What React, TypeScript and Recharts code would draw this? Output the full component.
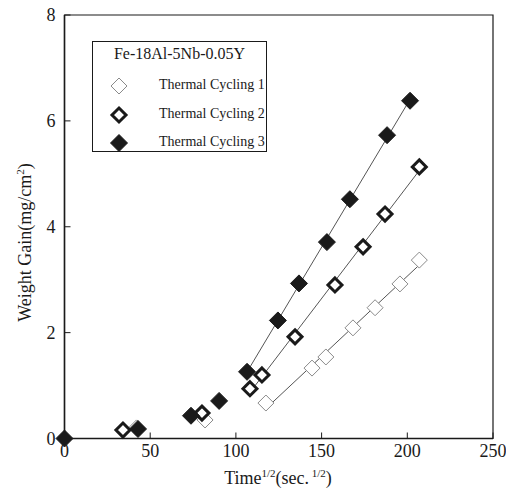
import {
  ScatterChart, Scatter, XAxis, YAxis, ReferenceArea, Legend,
} from 'recharts'

// [time^1/2, weight gain]
const cycling1 = [
  [42, 0.2], [82, 0.35], [117.5, 0.67], [144.4, 1.33], [152.5, 1.54],
  [168.3, 2.09], [181.2, 2.47], [195.7, 2.92], [207, 3.37],
]
const cycling2 = [
  [34.1, 0.16], [80.2, 0.48], [108.2, 0.94], [115.2, 1.2], [134.5, 1.92],
  [157.8, 2.9], [174.2, 3.62], [187, 4.24], [207, 5.13],
]
const cycling3 = [
  [0, 0], [42.9, 0.18], [73.8, 0.43], [90.2, 0.71], [106.5, 1.26],
  [124.5, 2.23], [136.8, 2.93], [153.1, 3.71], [166.5, 4.52],
  [188.2, 5.73], [201.6, 6.38],
]
// where the fitted lines start
const fitFrom = [117, 108, 106]

const xTicks = [0, 50, 100, 150, 200, 250]
const yTicks = [0, 2, 4, 6, 8]
const seriesNames = ['Thermal Cycling 1', 'Thermal Cycling 2', 'Thermal Cycling 3']
const legendTitle = 'Fe-18Al-5Nb-0.05Y'

const toPts = (a: number[][]) => a.map(([x, y]) => ({ x, y }))

const FONT = '"Liberation Serif", "Times New Roman", serif'
const INK = '#1a1a1a'

type Style = { r: number; fill: string; stroke: string; sw: number }
const styles: Style[] = [
  { r: 8, fill: '#fff', stroke: '#8a8a8a', sw: 1 },
  { r: 7, fill: '#fff', stroke: INK, sw: 3 },
  { r: 8.5, fill: INK, stroke: INK, sw: 1 },
]

const diamondPts = (cx: number, cy: number, r: number) =>
  `${cx},${cy - r} ${cx + r},${cy} ${cx},${cy + r} ${cx - r},${cy}`

const makeShape = (s: Style) => (props: any) => {
  const { cx, cy } = props
  if (cx == null || cy == null) return <g />
  return (
    <polygon points={diamondPts(cx, cy, s.r)} fill={s.fill}
      stroke={s.stroke} strokeWidth={s.sw} strokeLinejoin="miter" />
  )
}

const NoShape = () => <g />

const XTick = ({ x, y, payload }: any) => (
  <text x={x} y={y} dy="0.71em" textAnchor="middle" fontSize={18} fill={INK}
    style={{ fontFamily: FONT }}>{payload.value}</text>
)
const YTick = ({ x, y, payload }: any) => (
  <text x={x} y={y} dy="0.35em" textAnchor="end" fontSize={18} fill={INK}
    style={{ fontFamily: FONT }}>{payload.value}</text>
)

function LegendBox() {
  return (
    <div style={{
      width: 175, height: 111, border: `1px solid ${INK}`, background: '#fff',
      fontFamily: FONT, color: INK, boxSizing: 'border-box', position: 'relative',
    }}>
      <div style={{ position: 'absolute', left: 0, right: 0, top: 3, textAlign: 'center', fontSize: 16, fontFamily: FONT }}>
        {legendTitle}
      </div>
      {seriesNames.map((n, i) => (
        <div key={n} style={{ position: 'absolute', left: 0, top: 33 + i * 28.5, height: 22, width: 174 }}>
          <svg width={40} height={22} style={{ position: 'absolute', left: 6, top: 0 }}>
            <polygon points={diamondPts(20, 11, styles[i].r)} fill={styles[i].fill}
              stroke={styles[i].stroke} strokeWidth={styles[i].sw} />
          </svg>
          <span style={{ position: 'absolute', left: 66, top: 2, fontSize: 14, whiteSpace: 'nowrap', fontFamily: FONT }}>{n}</span>
        </div>
      ))}
    </div>
  )
}

export default function App() {
  const sets = [cycling1, cycling2, cycling3]
  return (
    <div style={{ position: 'absolute', left: 0, top: 0, width: 506, height: 493, background: '#fff', fontFamily: FONT }}>
      <ScatterChart width={506} height={493}
        margin={{ top: 15, right: 13, bottom: 24.5, left: 24.5 }}>
        <XAxis type="number" dataKey="x" domain={[0, 250]} ticks={xTicks}
          tickSize={-6} tickMargin={12} height={30} tick={<XTick />}
          axisLine={{ stroke: INK, strokeWidth: 1.5 }} tickLine={{ stroke: INK }} />
        <YAxis type="number" dataKey="y" domain={[0, 8]} ticks={yTicks}
          tickSize={-6} tickMargin={15} width={40} tick={<YTick />}
          axisLine={{ stroke: INK, strokeWidth: 1.5 }} tickLine={{ stroke: INK }} />
        <ReferenceArea x1={0} x2={250} y1={0} y2={8} fill="none" stroke={INK} strokeWidth={1.2} />
        {sets.map((d, i) => (
          <Scatter key={'fit' + i} data={toPts(d.filter(([x]) => x >= fitFrom[i]))}
            shape={NoShape} line={{ stroke: '#555', strokeWidth: 1 }} lineType="fitting"
            legendType="none" isAnimationActive={false} />
        ))}
        {sets.map((d, i) => (
          <Scatter key={seriesNames[i]} name={seriesNames[i]} data={toPts(d)}
            shape={makeShape(styles[i])} isAnimationActive={false} />
        ))}
        <Legend content={() => <LegendBox />} layout="horizontal" verticalAlign="middle" align="center"
          wrapperStyle={{ left: 92, top: 41, width: 175, bottom: 'auto' }} />
      </ScatterChart>
      <div style={{
        position: 'absolute', left: 178, width: 200, top: 467, textAlign: 'center',
        fontFamily: FONT, fontSize: 18, color: INK, whiteSpace: 'nowrap',
      }}>
        Time<sup style={{ fontSize: 11 }}>1/2</sup>(sec.<sup style={{ fontSize: 11 }}> 1/2</sup>)
      </div>
      <div style={{
        position: 'absolute', left: 22, top: 240, width: 220, marginLeft: -110, marginTop: -12,
        transform: 'rotate(-90deg)', textAlign: 'center', fontFamily: FONT, fontSize: 18,
        color: INK, whiteSpace: 'nowrap', lineHeight: '24px',
      }}>
        Weight Gain(mg/cm<sup style={{ fontSize: 11 }}>2</sup>)
      </div>
    </div>
  )
}
